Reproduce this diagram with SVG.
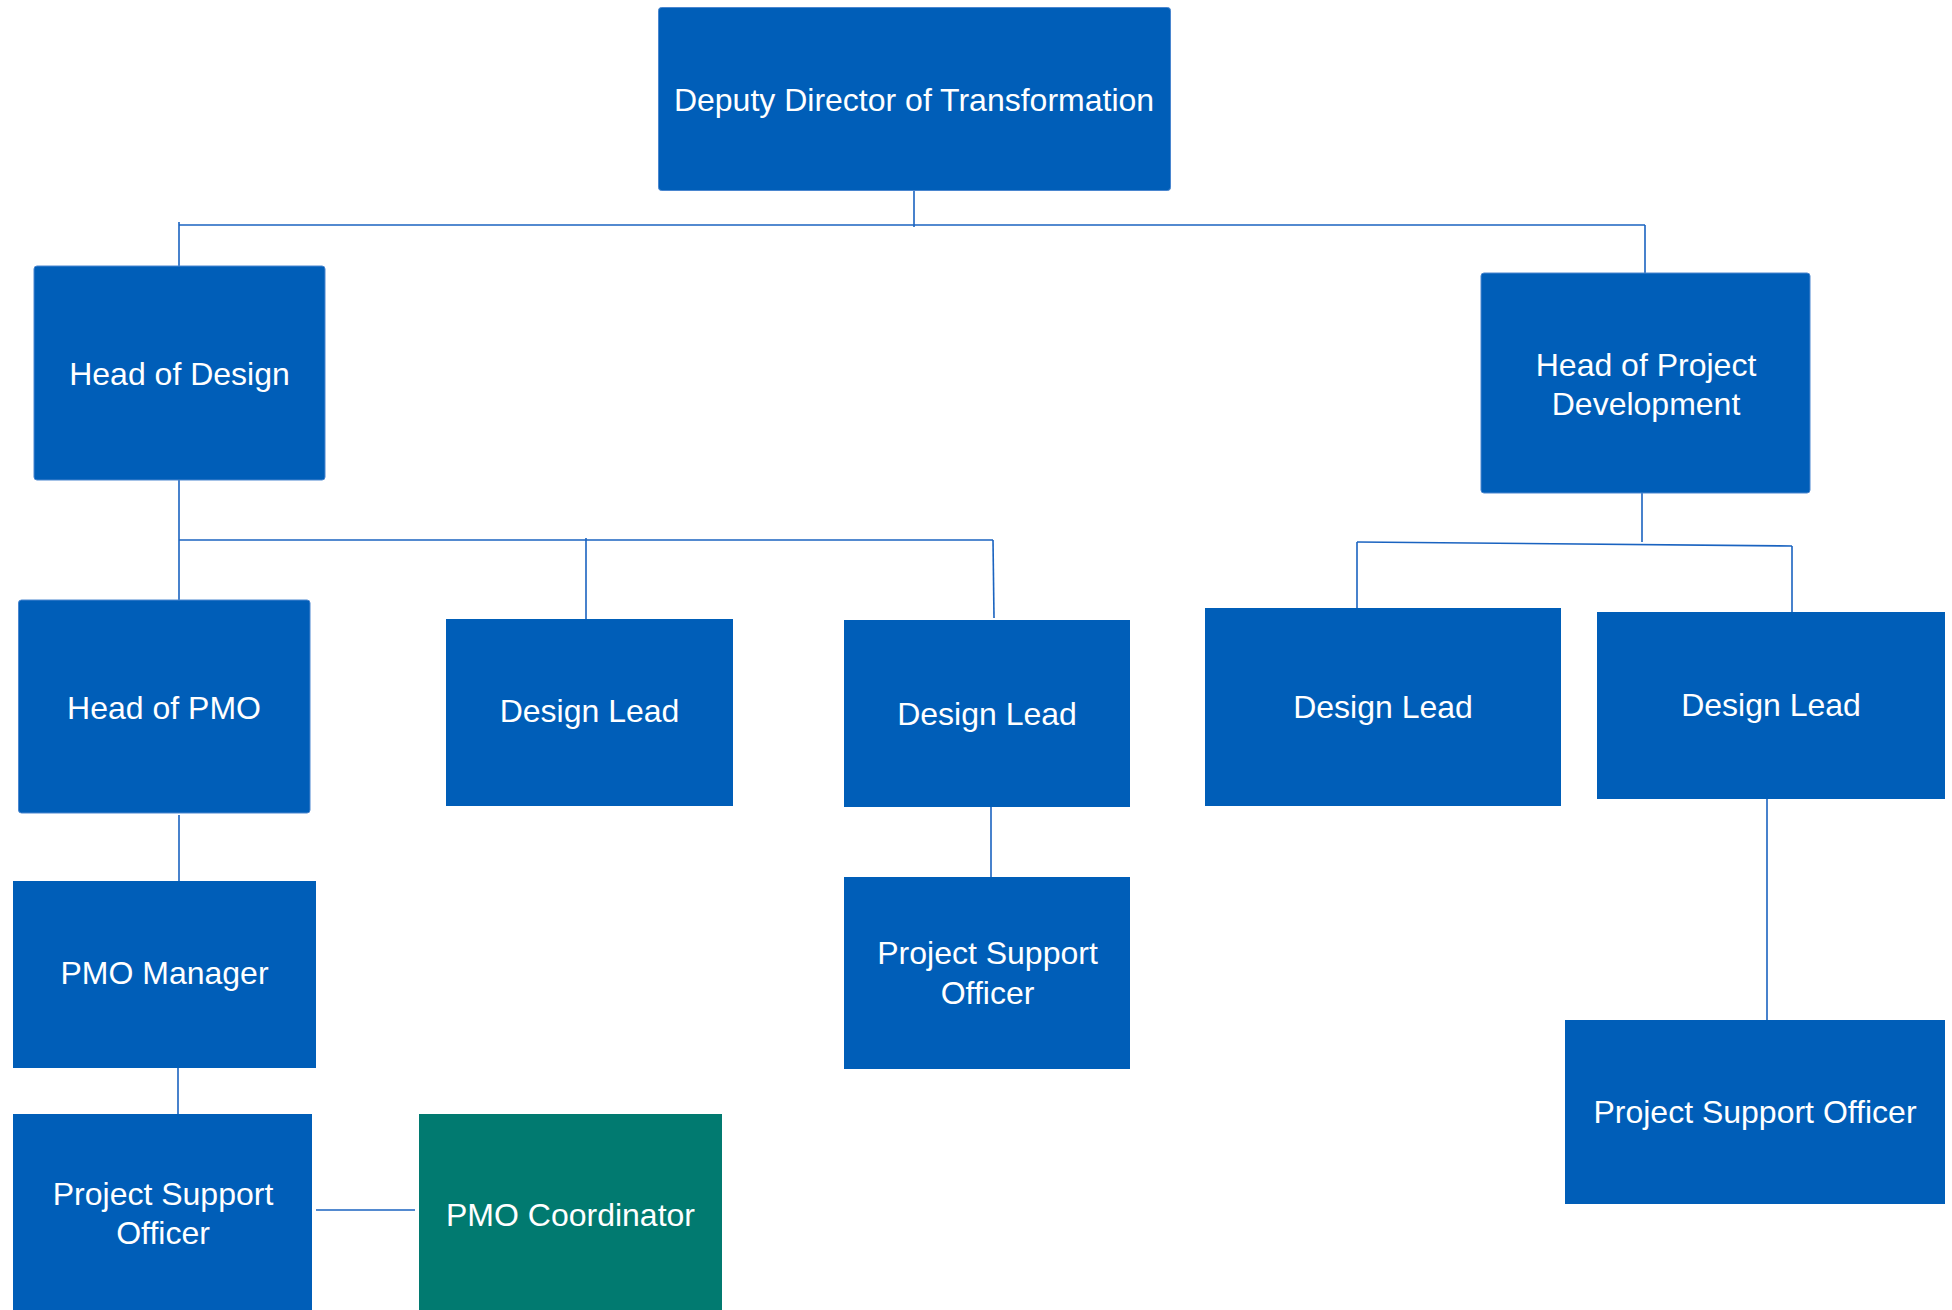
<svg xmlns="http://www.w3.org/2000/svg" width="1952" height="1310" viewBox="0 0 1952 1310">
  <style>
    .box { fill: #005EB8; }
    .rnd { stroke: #4a86cf; stroke-width: 1; }
    .teal { fill: #017A70; }
    .lbl { font-family: "Liberation Sans", Arial, sans-serif; font-size: 32px; fill: #ffffff; text-anchor: middle; }
    .conn { stroke: #1a63c0; stroke-width: 1.6; fill: none; }
  </style>
  <rect width="1952" height="1310" fill="#ffffff"/>

  <g id="connectors">
    <line class="conn" x1="914" y1="190" x2="914" y2="227"/>
    <line class="conn" x1="179" y1="225" x2="1645" y2="225"/>
    <line class="conn" x1="179" y1="222" x2="179" y2="266"/>
    <line class="conn" x1="1645" y1="225" x2="1645" y2="273"/>
    <line class="conn" x1="179" y1="480" x2="179" y2="600"/>
    <line class="conn" x1="179" y1="540" x2="993" y2="540"/>
    <line class="conn" x1="586" y1="538" x2="586" y2="619"/>
    <line class="conn" x1="993" y1="540" x2="994" y2="618"/>
    <line class="conn" x1="991" y1="807" x2="991" y2="877"/>
    <line class="conn" x1="179" y1="815" x2="179" y2="881"/>
    <line class="conn" x1="178" y1="1068" x2="178" y2="1114"/>
    <line class="conn" x1="316" y1="1210" x2="415" y2="1210"/>
    <line class="conn" x1="1642" y1="493" x2="1642" y2="542"/>
    <line class="conn" x1="1357" y1="542" x2="1792" y2="546"/>
    <line class="conn" x1="1357" y1="542" x2="1357" y2="608"/>
    <line class="conn" x1="1792" y1="546" x2="1792" y2="612"/>
    <line class="conn" x1="1767" y1="799" x2="1767" y2="1020"/>
  </g>

  <g id="deputy-director">
    <rect class="box rnd" x="658.5" y="7.5" width="512" height="183" rx="3"/>
    <text class="lbl" x="914" y="111">Deputy Director of Transformation</text>
  </g>

  <g id="head-of-design">
    <rect class="box rnd" x="34" y="266" width="291" height="214" rx="3"/>
    <text class="lbl" x="179.5" y="385">Head of Design</text>
  </g>

  <g id="head-of-project-development">
    <rect class="box rnd" x="1481" y="273" width="329" height="220" rx="3"/>
    <text class="lbl" x="1646" y="375.5">Head of Project</text>
    <text class="lbl" x="1646" y="415">Development</text>
  </g>

  <g id="head-of-pmo">
    <rect class="box rnd" x="18.5" y="600" width="291.5" height="213" rx="3"/>
    <text class="lbl" x="164" y="719">Head of PMO</text>
  </g>

  <g id="design-lead-1">
    <rect class="box" x="446" y="619" width="287" height="187"/>
    <text class="lbl" x="589.5" y="722">Design Lead</text>
  </g>

  <g id="design-lead-2">
    <rect class="box" x="844" y="620" width="286" height="187"/>
    <text class="lbl" x="987" y="724.5">Design Lead</text>
  </g>

  <g id="design-lead-3">
    <rect class="box" x="1205" y="608" width="356" height="198"/>
    <text class="lbl" x="1383" y="718">Design Lead</text>
  </g>

  <g id="design-lead-4">
    <rect class="box" x="1597" y="612" width="348" height="187"/>
    <text class="lbl" x="1771" y="716">Design Lead</text>
  </g>

  <g id="pmo-manager">
    <rect class="box" x="13" y="881" width="303" height="187"/>
    <text class="lbl" x="164.5" y="984">PMO Manager</text>
  </g>

  <g id="project-support-officer-1">
    <rect class="box" x="13" y="1114" width="299" height="200"/>
    <text class="lbl" x="163" y="1205">Project Support</text>
    <text class="lbl" x="163" y="1244">Officer</text>
  </g>

  <g id="pmo-coordinator">
    <rect class="teal" x="419" y="1114" width="303" height="200"/>
    <text class="lbl" x="570.5" y="1226">PMO Coordinator</text>
  </g>

  <g id="project-support-officer-2">
    <rect class="box" x="844" y="877" width="286" height="192"/>
    <text class="lbl" x="987.5" y="964">Project Support</text>
    <text class="lbl" x="987.5" y="1004">Officer</text>
  </g>

  <g id="project-support-officer-3">
    <rect class="box" x="1565" y="1020" width="380" height="184"/>
    <text class="lbl" x="1755" y="1123">Project Support Officer</text>
  </g>
</svg>
